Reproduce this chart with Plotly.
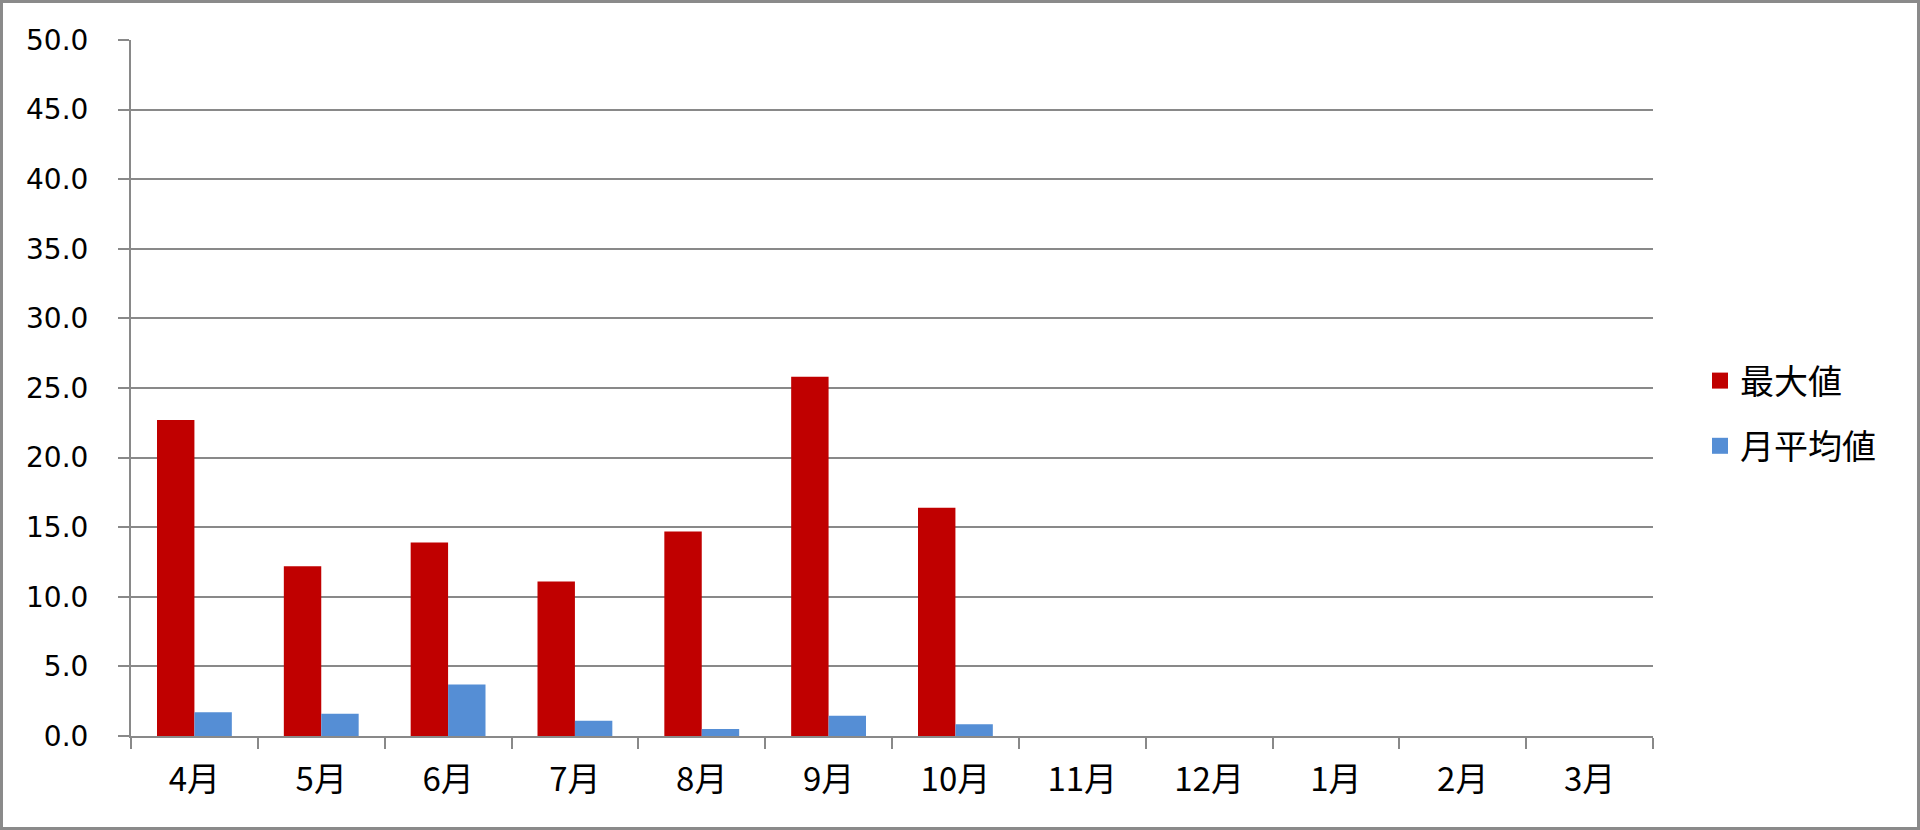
import plotly.graph_objects as go

months = ["4月", "5月", "6月", "7月", "8月", "9月", "10月", "11月", "12月", "1月", "2月", "3月"]
max_values = [22.7, 12.2, 13.9, 11.1, 14.7, 25.8, 16.4, None, None, None, None, None]
avg_values = [1.7, 1.6, 3.7, 1.1, 0.5, 1.45, 0.85, None, None, None, None, None]
series_names = ["最大値", "月平均値"]
series_colors = ["#C00000", "#558ED5"]

W, H = 1920, 830
ml, mr, mt, mb = 131, 267, 40, 94
pw, ph = W - ml - mr, H - mt - mb
grid_color = "#898989"

fig = go.Figure()
for name, vals, color in zip(series_names, [max_values, avg_values], series_colors):
    fig.add_trace(go.Bar(x=months, y=vals, name=name, marker_color=color,
                         marker_line_width=0, showlegend=False))

# legend proxies so the square swatches are bigger than the default bar symbol
for i, (name, color) in enumerate(zip(series_names, series_colors)):
    fig.add_trace(go.Scatter(x=[None], y=[None], mode="markers", name=name,
                             legendgroup=f"g{i}",
                             marker=dict(symbol="square", size=16, color=color)))

fig.update_layout(
    width=W, height=H,
    margin=dict(l=ml, r=mr, t=mt, b=mb),
    plot_bgcolor="white", paper_bgcolor="white",
    barmode="group", bargap=0.41, bargroupgap=0,
    font=dict(family="Noto Sans CJK JP, sans-serif", color="black"),
    legend=dict(x=(1700 - ml) / pw, y=(H - mb - 352) / ph, xanchor="left", yanchor="top",
                font=dict(size=34, family="Noto Sans CJK JP"), tracegroupgap=18,
                bgcolor="rgba(0,0,0,0)"),
    xaxis=dict(type="category", categoryorder="array", categoryarray=months,
               showline=True, linecolor=grid_color, linewidth=2,
               ticks="outside", tickson="boundaries", ticklen=11, tickwidth=2,
               tickcolor=grid_color, showgrid=False, ticklabelstandoff=13,
               tickfont=dict(size=33, family="Noto Sans CJK JP")),
    yaxis=dict(range=[0, 50], dtick=5, tickformat=".1f",
               showline=True, linecolor=grid_color, linewidth=2,
               ticks="outside", ticklen=11, tickwidth=2, tickcolor=grid_color,
               showgrid=True, gridcolor=grid_color, gridwidth=2, zeroline=False,
               ticklabelstandoff=24,
               tickfont=dict(size=28, family="DejaVu Sans")),
    shapes=[dict(type="rect", xref="paper", yref="paper",
                 x0=-(ml - 1.5) / pw, x1=1 + (mr - 1.5) / pw,
                 y0=-(mb - 1.5) / ph, y1=1 + (mt - 1.5) / ph,
                 line=dict(color="#8a8a8a", width=3), layer="below")],
)

# drop the default 8px body margin so the figure fills the window exactly
fig.write_html("out.html", config={"displayModeBar": False},
               post_script="document.body.style.margin='0';")
